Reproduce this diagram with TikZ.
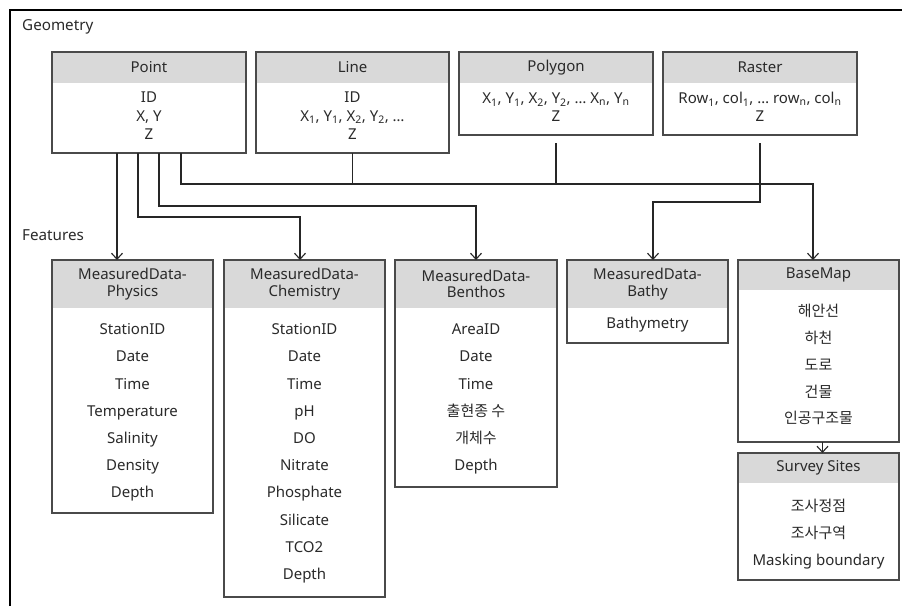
\documentclass[tikz,border=0pt]{standalone}
\usepackage{fontspec}
\setmainfont{Noto Sans}
\newfontfamily\kr{Noto Sans CJK KR}
\usetikzlibrary{arrows.meta,calc}
\definecolor{boxline}{HTML}{4A4A4A}
\definecolor{hdrfill}{HTML}{D9D9D9}
\definecolor{ink}{HTML}{2A2A2A}
% Korean words set in the CJK family
\newcommand\hg[1]{{\kr\fontsize{15}{17}\selectfont #1}}
% class box: name, x, y, width, height, header height, title
\newcommand\classbox[7]{%
  \node[hdr, minimum width=#4, minimum height=#6, anchor=north west] (#1-head) at (#2,#3) {#7};
  \node[classframe, minimum width=#4, minimum height=#5, anchor=north west] (#1) at (#2,#3) {};
}
\begin{document}
\begin{tikzpicture}[x=1pt,y=-1pt,
  classframe/.style={draw=boxline, line width=1.5pt, rectangle, inner sep=0pt, outer sep=0pt},
  hdr/.style={fill=hdrfill, rectangle, inner sep=0pt, outer sep=0pt, text=ink, align=center,
    font=\fontsize{15}{16.5}\selectfont},
  txt/.style={text=ink, inner sep=0pt, text height=11pt, text depth=3.5pt,
    font=\fontsize{15}{17}\selectfont},
  section/.style={anchor=west, text=ink, inner sep=0pt, font=\fontsize{15.2}{17}\selectfont},
  wire/.style={draw=black!85, line width=1.1pt},
  arr/.style={wire, -{Straight Barb[length=6pt,width=11pt]}}]

\useasboundingbox (0,0) rectangle (902,606);
\fill[white] (0,0) rectangle (902,606);
\draw[line width=1.2pt] (10,606) -- (10,10) -- (902,10);

\node[section] (geomlabel) at (22,27) {Geometry};
\node[section] (featlabel) at (22,235) {Features};

% geometry classes
\classbox{point}{52}{52}{194}{101}{31}{Point}
\classbox{line}{256}{52}{193}{101}{31}{Line}
\classbox{polygon}{459}{52}{194}{83}{31}{Polygon}
\classbox{raster}{663}{52}{194}{83}{31}{Raster}

\node[txt] (point-1) at (149,99) {ID};
\node[txt] (point-2) at (149,117.5) {X, Y};
\node[txt] (point-3) at (149,136) {Z};
\node[txt] (line-1) at (352.5,99) {ID};
\node[txt] (line-2) at (352.5,117.5) {X\textsubscript{1}, Y\textsubscript{1}, X\textsubscript{2}, Y\textsubscript{2}, …};
\node[txt] (line-3) at (352.5,136) {Z};
\node[txt] (polygon-1) at (556,100) {X\textsubscript{1}, Y\textsubscript{1}, X\textsubscript{2}, Y\textsubscript{2}, … X\textsubscript{n}, Y\textsubscript{n}};
\node[txt] (polygon-2) at (556,118) {Z};
\node[txt] (raster-1) at (760,100) {Row\textsubscript{1}, col\textsubscript{1}, … row\textsubscript{n}, col\textsubscript{n}};
\node[txt] (raster-2) at (760,118) {Z};

% feature classes
\classbox{physics}{52}{260}{161}{253}{48}{MeasuredData-\\Physics}
\classbox{chem}{224}{260}{161}{337}{48}{MeasuredData-\\Chemistry}
\classbox{benthos}{395}{260}{162}{227}{48}{MeasuredData-\\Benthos}
\classbox{bathy}{567}{260}{161}{83}{48}{MeasuredData-\\Bathy}
\classbox{basemap}{738}{260}{161}{182}{30}{BaseMap}
\classbox{survey}{738}{453}{161}{127}{30}{Survey Sites}

\foreach \t [count=\i] in {StationID,Date,Time,Temperature,Salinity,Density,Depth}
  \node[txt] (physics-\i) at (132.5,{331+27.2*(\i-1)}) {\t};
\foreach \t [count=\i] in {StationID,Date,Time,pH,DO,Nitrate,Phosphate,Silicate,TCO2,Depth}
  \node[txt] (chem-\i) at (304.5,{331+27.2*(\i-1)}) {\t};
\foreach \t [count=\i] in {AreaID,Date,Time,\hg{출현종 수},\hg{개체수},Depth}
  \node[txt] (benthos-\i) at (476,{331+27.2*(\i-1)}) {\t};
\node[txt] (bathy-1) at (647.5,325) {Bathymetry};
\foreach \t [count=\i] in {해안선,하천,도로,건물,인공구조물}
  \node[txt] (basemap-\i) at (818.5,{313+26.8*(\i-1)}) {\hg{\t}};
\node[txt] (survey-1) at (818.5,508) {\hg{조사정점}};
\node[txt] (survey-2) at (818.5,535) {\hg{조사구역}};
\node[txt] (survey-3) at (818.5,562) {Masking boundary};

% bend levels of the connectors
\coordinate (lvlbus) at (0,184);
\coordinate (lvlraster) at (0,202);
\coordinate (lvlbenthos) at (0,206);
\coordinate (lvlchem) at (0,217);
% taps on the bottom of Point
\coordinate (tapA) at ([xshift=-32pt]point.south);
\coordinate (tapB) at ([xshift=-11pt]point.south);
\coordinate (tapC) at ([xshift=10pt]point.south);
\coordinate (tapD) at ([xshift=32pt]point.south);
% entries on the feature classes
\coordinate (chemin) at ([xshift=-4.5pt]chem.north);
\coordinate (benthosin) at (benthos.north);
\coordinate (bathyin) at ([xshift=5.5pt]bathy.north);
\coordinate (basemapin) at ([xshift=-5.5pt]basemap.north);
\coordinate (polytap) at ($(polygon.south)+(0,8)$);
\coordinate (rastertap) at ($(raster.south)+(0,8)$);
\coordinate (surveyout) at ([xshift=4pt]basemap.south);
\coordinate (surveyin) at ([xshift=4pt]survey.north);

% connectors
\draw[arr] (tapA) -- (tapA |- physics.north);
\draw[arr] (tapB) |- (chemin |- lvlchem) -- (chemin);
\draw[arr] (tapC) |- (benthosin |- lvlbenthos) -- (benthosin);
\draw[arr] (tapD) |- (basemapin |- lvlbus) -- (basemapin);
\draw[wire] (line.south) -- (line.south |- lvlbus);
\draw[wire] (polytap) -- (polytap |- lvlbus);
\draw[arr] (rastertap) |- (bathyin |- lvlraster) -- (bathyin);
\draw[arr] (surveyout) -- (surveyin);
\end{tikzpicture}
\end{document}
